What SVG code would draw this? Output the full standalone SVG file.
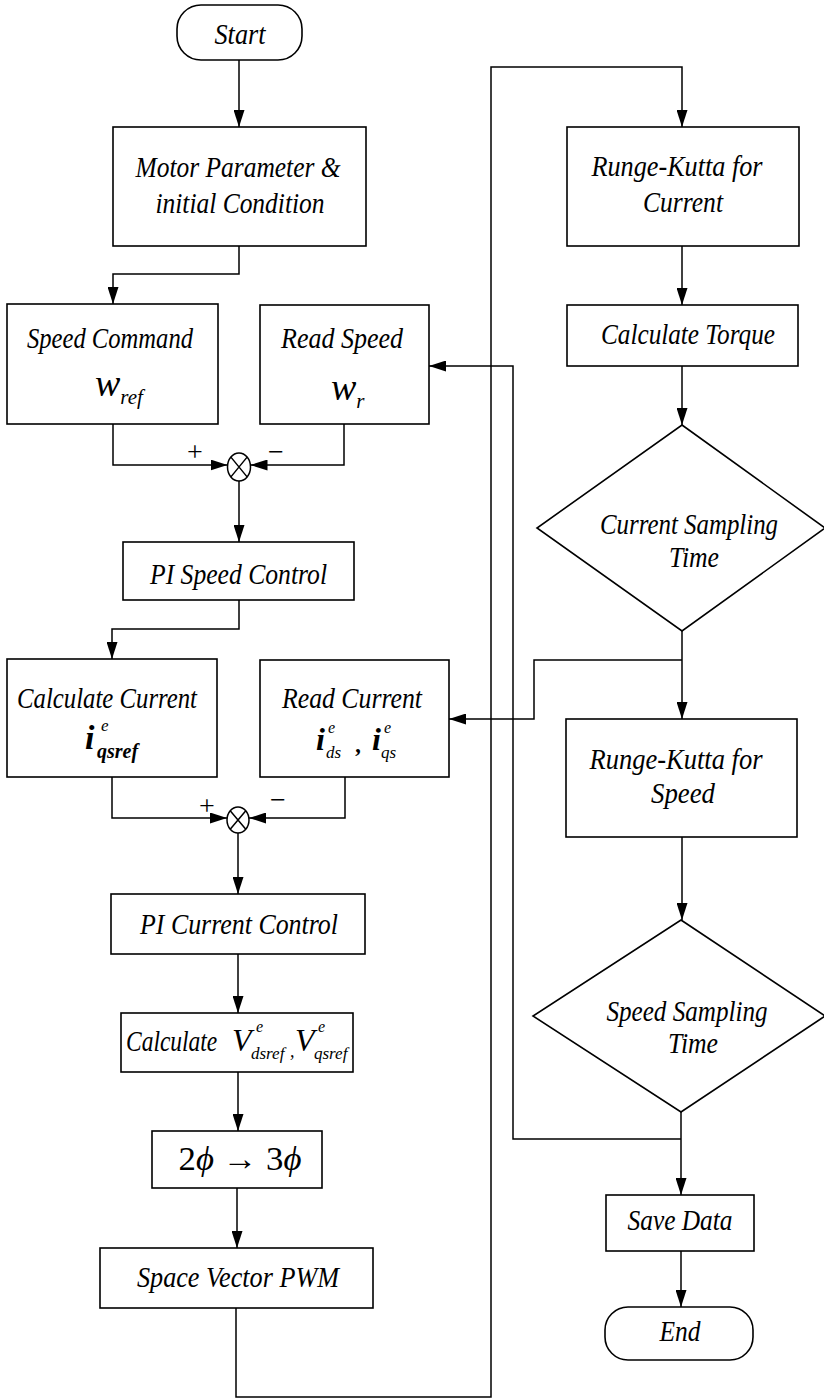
<svg xmlns="http://www.w3.org/2000/svg" width="824" height="1400" viewBox="0 0 824 1400">
<style>
.box{fill:#fff;stroke:#000;stroke-width:1.6}
.ln{fill:none;stroke:#000;stroke-width:1.5}
.t{font-family:"Liberation Serif","Times New Roman",serif;font-style:italic;font-size:29px;text-anchor:middle;fill:#000}
.m{font-family:"Liberation Serif","Times New Roman",serif;font-style:italic;fill:#000}
.s{font-family:"Liberation Serif","Times New Roman",serif;font-size:28px;text-anchor:middle;fill:#000}
</style>
<defs>
<marker id="ar" markerUnits="userSpaceOnUse" markerWidth="17" markerHeight="11" refX="17" refY="5.5" orient="auto">
<path d="M0,0 L17,5.5 L0,11 z" fill="#000"/>
</marker>
</defs>
<rect width="824" height="1400" fill="#fff"/>

<g id="connectors">
<path class="ln" marker-end="url(#ar)" d="M239,60 V127"/>
<path class="ln" marker-end="url(#ar)" d="M239,246 V274 H113 V304"/>
<path class="ln" marker-end="url(#ar)" d="M113,424 V465 H227.5"/>
<path class="ln" marker-end="url(#ar)" d="M344,424 V465 H250.5"/>
<path class="ln" marker-end="url(#ar)" d="M239,481 V542"/>
<path class="ln" marker-end="url(#ar)" d="M239,600 V629 H112 V659"/>
<path class="ln" marker-end="url(#ar)" d="M112,777 V818 H227"/>
<path class="ln" marker-end="url(#ar)" d="M345,777 V818 H249"/>
<path class="ln" marker-end="url(#ar)" d="M238,833 V894"/>
<path class="ln" marker-end="url(#ar)" d="M238,954 V1013"/>
<path class="ln" marker-end="url(#ar)" d="M238,1072 V1131"/>
<path class="ln" marker-end="url(#ar)" d="M237,1188 V1248"/>
<path class="ln" marker-end="url(#ar)" d="M236,1308 V1397 H491 V67 H682 V127"/>
<path class="ln" marker-end="url(#ar)" d="M682,246 V305"/>
<path class="ln" marker-end="url(#ar)" d="M682,366 V425"/>
<path class="ln" marker-end="url(#ar)" d="M682,631 V719"/>
<path class="ln" marker-end="url(#ar)" d="M682,660 H534 V719 H449"/>
<path class="ln" marker-end="url(#ar)" d="M682,837 V920"/>
<path class="ln" marker-end="url(#ar)" d="M681,1112 V1195"/>
<path class="ln" marker-end="url(#ar)" d="M681,1139 H513 V366 H429"/>
<path class="ln" marker-end="url(#ar)" d="M681,1251 V1307"/>
<text class="s" x="195" y="461">+</text>
<text class="s" x="276" y="461">−</text>
<text class="s" x="207" y="815">+</text>
<text class="s" x="278" y="809">−</text>
</g>

<g id="start">
<rect class="box" x="177" y="5" width="125" height="55" rx="24" ry="24"/>
<text class="t" x="240" y="44" textLength="51" lengthAdjust="spacingAndGlyphs">Start</text>
</g>

<g id="motor-parameter">
<rect class="box" x="113" y="127" width="253" height="119"/>
<text class="t" x="238" y="177" textLength="205" lengthAdjust="spacingAndGlyphs">Motor Parameter &amp;</text>
<text class="t" x="240" y="213" textLength="169" lengthAdjust="spacingAndGlyphs">initial  Condition</text>
</g>

<g id="speed-command">
<rect class="box" x="7" y="304" width="211" height="120"/>
<text class="t" x="110" y="348" textLength="166" lengthAdjust="spacingAndGlyphs">Speed Command</text>
<text class="m" x="95" y="396" font-size="38">w<tspan font-size="21" dy="8">ref</tspan></text>
</g>

<g id="read-speed">
<rect class="box" x="260" y="305" width="169" height="119"/>
<text class="t" x="342" y="348" textLength="122" lengthAdjust="spacingAndGlyphs">Read Speed</text>
<text class="m" x="331" y="400" font-size="38">w<tspan font-size="21" dy="8">r</tspan></text>
</g>

<g id="sum-speed">
<ellipse class="ln" cx="239" cy="467" rx="11.5" ry="14"/>
<path class="ln" d="M230.9,457.1 L247.1,476.9 M247.1,457.1 L230.9,476.9"/>
</g>

<g id="pi-speed">
<rect class="box" x="123" y="542" width="231" height="58"/>
<text class="t" x="238.5" y="584" textLength="177" lengthAdjust="spacingAndGlyphs">PI Speed Control</text>
</g>

<g id="calc-current">
<rect class="box" x="7" y="659" width="210" height="118"/>
<text class="t" x="107" y="708" textLength="180" lengthAdjust="spacingAndGlyphs">Calculate Current</text>
<text class="m" x="85" y="749" font-size="34" font-weight="bold">i</text>
<text class="m" x="101" y="731" font-size="17">e</text>
<text class="m" x="97" y="758" font-size="20" font-weight="bold">qsref</text>
</g>

<g id="read-current">
<rect class="box" x="260" y="660" width="189" height="117"/>
<text class="t" x="352" y="708" textLength="140" lengthAdjust="spacingAndGlyphs">Read Current</text>
<text class="m" x="316" y="750" font-size="32" font-weight="bold">i</text>
<text class="m" x="328" y="733" font-size="16">e</text>
<text class="m" x="326" y="758" font-size="17">ds</text>
<text class="m" x="356" y="752" font-size="24" font-weight="bold">,</text>
<text class="m" x="372" y="750" font-size="32" font-weight="bold">i</text>
<text class="m" x="384" y="733" font-size="16">e</text>
<text class="m" x="381" y="758" font-size="17">qs</text>
</g>

<g id="sum-current">
<ellipse class="ln" cx="238" cy="820" rx="11" ry="13"/>
<path class="ln" d="M230.2,810.8 L245.8,829.2 M245.8,810.8 L230.2,829.2"/>
</g>

<g id="pi-current">
<rect class="box" x="111" y="894" width="254" height="60"/>
<text class="t" x="239" y="934" textLength="198" lengthAdjust="spacingAndGlyphs">PI Current Control</text>
</g>

<g id="calc-voltage">
<rect class="box" x="121" y="1013" width="232" height="59"/>
<text class="m" font-size="29" transform="translate(126,1051) scale(0.81,1)">Calculate</text>
<text class="m" x="232" y="1051" font-size="32">V<tspan x="256" y="1032" font-size="16">e</tspan><tspan x="251" y="1059" font-size="17">dsref</tspan><tspan x="290" y="1057" font-size="18">,</tspan><tspan x="295" y="1051" font-size="32">V</tspan><tspan x="318" y="1032" font-size="16">e</tspan><tspan x="314" y="1059" font-size="17">qsref</tspan></text>
</g>

<g id="phase-transform">
<rect class="box" x="152" y="1131" width="170" height="57"/>
<text x="240" y="1170" font-family="Liberation Serif, Times New Roman, serif" font-size="34" text-anchor="middle" textLength="123" lengthAdjust="spacingAndGlyphs">2<tspan font-style="italic">ϕ</tspan> → 3<tspan font-style="italic">ϕ</tspan></text>
</g>

<g id="svpwm">
<rect class="box" x="100" y="1248" width="273" height="60"/>
<text class="t" x="238" y="1287" textLength="202" lengthAdjust="spacingAndGlyphs">Space  Vector PWM</text>
</g>

<g id="rk-current">
<rect class="box" x="567" y="127" width="232" height="119"/>
<text class="t" x="677" y="176" textLength="171" lengthAdjust="spacingAndGlyphs">Runge-Kutta for</text>
<text class="t" x="683" y="212" textLength="80" lengthAdjust="spacingAndGlyphs">Current</text>
</g>

<g id="calc-torque">
<rect class="box" x="567" y="305" width="231" height="61"/>
<text class="t" x="688" y="344" textLength="174" lengthAdjust="spacingAndGlyphs">Calculate  Torque</text>
</g>

<g id="current-sampling">
<polygon class="box" points="682,425 825,528 682,631 537,528"/>
<text class="t" x="689" y="534" textLength="178" lengthAdjust="spacingAndGlyphs">Current Sampling</text>
<text class="t" x="694" y="567" textLength="50" lengthAdjust="spacingAndGlyphs">Time</text>
</g>

<g id="rk-speed">
<rect class="box" x="566" y="719" width="231" height="118"/>
<text class="t" x="676" y="769" textLength="173" lengthAdjust="spacingAndGlyphs">Runge-Kutta for</text>
<text class="t" x="683" y="803" textLength="64" lengthAdjust="spacingAndGlyphs">Speed</text>
</g>

<g id="speed-sampling">
<polygon class="box" points="681,920 825,1016 681,1112 533,1016"/>
<text class="t" x="687" y="1021" textLength="161" lengthAdjust="spacingAndGlyphs">Speed Sampling</text>
<text class="t" x="693" y="1053" textLength="50" lengthAdjust="spacingAndGlyphs">Time</text>
</g>

<g id="save-data">
<rect class="box" x="606" y="1195" width="148" height="56"/>
<text class="t" x="680" y="1230" textLength="105" lengthAdjust="spacingAndGlyphs">Save Data</text>
</g>

<g id="end">
<rect class="box" x="605" y="1307" width="148" height="53" rx="23" ry="23"/>
<text class="t" x="680" y="1341" textLength="41" lengthAdjust="spacingAndGlyphs">End</text>
</g>
</svg>
